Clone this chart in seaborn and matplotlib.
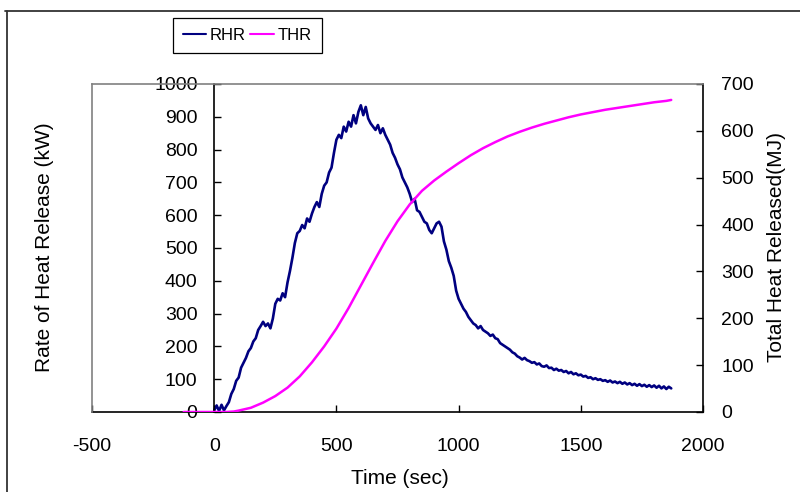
import matplotlib
matplotlib.use("Agg")
import pandas as pd
import seaborn as sns
from matplotlib import pyplot as plt
from matplotlib.lines import Line2D

sns.set_style("white")
plt.rcParams['font.family'] = ['Liberation Sans', 'DejaVu Sans']
plt.rcParams['text.color'] = 'black'
plt.rcParams['xtick.color'] = 'black'
plt.rcParams['ytick.color'] = 'black'
plt.rcParams['axes.unicode_minus'] = False

rhr_time = list(range(0, 1871, 10))
rhr_kw = [
    5, 20, 3, 22, 5, 18, 30, 55, 70, 95,
    105, 135, 150, 165, 185, 195, 215, 225, 250, 262,
    275, 262, 270, 255, 285, 330, 345, 340, 362, 350,
    395, 430, 470, 515, 545, 552, 570, 560, 590, 580,
    605, 625, 640, 625, 665, 690, 700, 730, 745, 790,
    830, 845, 835, 870, 855, 885, 870, 905, 880, 915,
    935, 905, 930, 895, 880, 870, 860, 875, 850, 865,
    845, 830, 815, 790, 775, 755, 740, 715, 700, 685,
    665, 640, 650, 615, 610, 595, 580, 575, 555, 545,
    560, 575, 580, 565, 520, 495, 460, 440, 415, 370,
    345, 330, 315, 305, 290, 280, 270, 265, 255, 262,
    250, 245, 240, 232, 236, 225, 222, 210, 205, 200,
    195, 190, 182, 178, 170, 166, 160, 165, 158, 155,
    150, 152, 145, 148, 140, 138, 142, 134, 135, 128,
    132, 126, 128, 122, 125, 118, 122, 115, 118, 112,
    114, 108, 110, 104, 106, 100, 103, 98, 100, 95,
    97, 92, 96, 90, 93, 88, 92, 86, 90, 84,
    88, 82, 86, 80, 85, 79, 83, 77, 82, 76,
    81, 74, 80, 72, 78, 70, 77, 72,
]

# Total heat released (MJ)
thr_time = [-125, -50, 0, 50, 80, 100, 150, 200, 250, 300, 350, 400, 450, 500,
            550, 600, 650, 700, 750, 800, 850, 900, 950, 1000, 1050, 1100,
            1150, 1200, 1250, 1300, 1350, 1400, 1450, 1500, 1550, 1600, 1650,
            1700, 1750, 1800, 1850, 1870]
thr_mj = [0, 0, 0, 0, 1, 3, 9, 20, 34, 52, 76, 106, 140, 178,
          222, 270, 318, 365, 407, 443, 472, 494, 513, 531, 548, 563,
          576, 588, 598, 607, 615, 622, 629, 635, 640, 645, 649,
          653, 657, 661, 664, 666]

x_ticks = [-500, 0, 500, 1000, 1500, 2000]
rhr_ticks = [0, 100, 200, 300, 400, 500, 600, 700, 800, 900, 1000]
thr_ticks = [0, 100, 200, 300, 400, 500, 600, 700]

rhr = pd.DataFrame({'t': rhr_time, 'v': rhr_kw})
thr = pd.DataFrame({'t': thr_time, 'v': thr_mj})

fig = plt.figure(figsize=(8, 4.92), dpi=100)
ax = fig.add_axes([92 / 800, 80 / 492, 611 / 800, 328 / 492])
ax2 = ax.twinx()

sns.lineplot(data=rhr, x='t', y='v', ax=ax, color='#000080', linewidth=1.9, legend=False)
sns.lineplot(data=thr, x='t', y='v', ax=ax2, color='#FF00FF', linewidth=1.8, legend=False)

ax.set_xlim(-500, 2000)
ax.set_ylim(0, 1000)
ax2.set_ylim(0, 700)
ax.set_xticks(x_ticks)
ax.set_yticks(rhr_ticks)
ax2.set_yticks(thr_ticks)
ax.set_xlabel('')
ax.set_ylabel('')
ax2.set_ylabel('')

# spines: value axis crosses at x = 0, grey plot-area frame
ax.spines['left'].set_position(('data', 0))
ax.spines['left'].set_color('black')
ax.spines['bottom'].set_color('black')
ax.spines['top'].set_visible(False)
ax.spines['right'].set_visible(False)
for s in ['left', 'top']:
    ax2.spines[s].set_visible(True)
    ax2.spines[s].set_color('#808080')
ax2.spines['bottom'].set_visible(False)
ax2.spines['right'].set_color('black')
for a in (ax, ax2):
    for s in a.spines.values():
        s.set_linewidth(1.2)

ax.tick_params(axis='y', left=True, right=False, direction='in', length=5,
               width=1, pad=12, labelsize=14)
ax.tick_params(axis='x', bottom=True, top=False, direction='in', length=5,
               width=1, pad=18.5, labelsize=14)
ax2.tick_params(axis='y', left=False, right=True, direction='in', length=5,
                width=1, pad=13, labelsize=14)

fig.text(0.5, 1 - 478 / 492, 'Time (sec)', ha='center', va='center', fontsize=15)
fig.text(45 / 800, 0.498, 'Rate of Heat Release (kW)', rotation=90,
         ha='center', va='center', fontsize=15)
fig.text(777 / 800, 0.498, 'Total Heat Released(MJ)', rotation=90,
         ha='center', va='center', fontsize=15)

handles = [ax.lines[0], ax2.lines[0]]
leg = fig.legend(handles, ['RHR', 'THR'], loc='center',
                 bbox_to_anchor=(0.309, 0.928), ncol=2,
                 prop={'size': 12},
                 frameon=True, fancybox=False, edgecolor='black', framealpha=1,
                 handlelength=1.4, handletextpad=0.25, columnspacing=0.25,
                 borderpad=0.6, borderaxespad=0)
leg.get_frame().set_linewidth(0.9)
for h in leg.get_lines():
    h.set_linewidth(1.5)

# outer chart frame (left and top edges)
fig.add_artist(Line2D([7 / 800, 7 / 800], [0, 1 - 11 / 492], color='#333333', lw=1.3))
fig.add_artist(Line2D([5 / 800, 1], [1 - 11 / 492, 1 - 11 / 492], color='#333333', lw=1.3))

fig.savefig('out.png', dpi=100)
